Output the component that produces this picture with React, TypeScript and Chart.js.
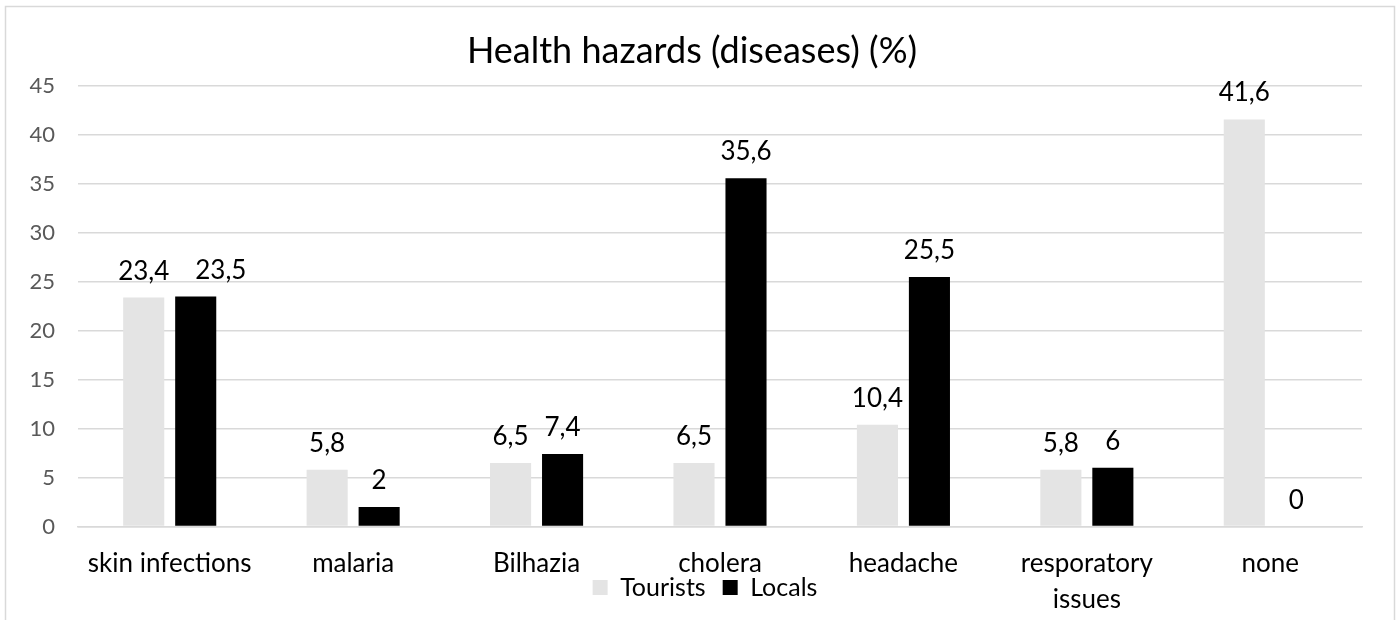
import React, { useEffect, useRef } from 'react';
import { Chart, registerables } from 'chart.js';

Chart.register(...registerables);

const FONT = 'Lato';

const titleText = 'Health hazards (diseases) (%)';
const categories: (string | string[])[] = [
  'skin infections',
  'malaria',
  'Bilhazia',
  'cholera',
  'headache',
  ['resporatory', 'issues'],
  'none',
];
const seriesNames = ['Tourists', 'Locals'];
const tourists = [23.4, 5.8, 6.5, 6.5, 10.4, 5.8, 41.6];
const locals = [23.5, 2, 7.4, 35.6, 25.5, 6, 0];
const yMin = 0;
const yMax = 45;
const yStep = 5;

const seriesColors = ['#e4e4e4', '#000000'];

const fmt = (v: number) => String(v).replace('.', ',');

const LABEL_FONT_SIZE = 26;
const LABEL_OFFSET = 18;

const valueLabels = {
  id: 'valueLabels',
  afterDatasetsDraw(chart: any) {
    const ctx = chart.ctx;
    ctx.save();
    ctx.font = `${LABEL_FONT_SIZE}px ${FONT}`;
    ctx.fillStyle = '#000';
    ctx.textAlign = 'center';
    ctx.textBaseline = 'alphabetic';
    const n = chart.data.labels.length;
    const metas = chart.data.datasets.map((_: any, di: number) => chart.getDatasetMeta(di));
    for (let i = 0; i < n; i++) {
      let prev: { right: number; y: number } | null = null;
      metas.forEach((meta: any, di: number) => {
        const bar = meta.data[i];
        const text = fmt(chart.data.datasets[di].data[i]);
        const w = ctx.measureText(text).width;
        let x = bar.x;
        const y = bar.y - LABEL_OFFSET;
        if (prev && Math.abs(prev.y - y) < LABEL_FONT_SIZE && x - w / 2 < prev.right + 8) {
          x = prev.right + 26 + w / 2;
        }
        ctx.fillText(text, x, y);
        prev = { right: x + w / 2, y };
      });
    }
    ctx.restore();
  },
};

const frame = {
  id: 'frame',
  afterLayout(chart: any) {
    const lg = chart.legend;
    if (lg) {
      lg.left += 24;
      lg.right += 24;
    }
    const tb = chart.titleBlock;
    if (tb) {
      tb.left += 11;
      tb.right += 11;
    }
  },
  afterDraw(chart: any) {
    const ctx = chart.ctx;
    ctx.save();
    ctx.strokeStyle = '#d9d9d9';
    ctx.lineWidth = 1.5;
    ctx.strokeRect(5.5, 6.5, 1389, 700);
    ctx.restore();
  },
};

export default function App() {
  const ref = useRef<HTMLCanvasElement | null>(null);

  useEffect(() => {
    if (!ref.current) return;
    const chart = new Chart(ref.current, {
      type: 'bar',
      data: {
        labels: categories,
        datasets: [
          {
            label: seriesNames[0],
            data: tourists,
            backgroundColor: seriesColors[0],
            categoryPercentage: 0.567,
            barPercentage: 0.79,
          },
          {
            label: seriesNames[1],
            data: locals,
            backgroundColor: seriesColors[1],
            categoryPercentage: 0.567,
            barPercentage: 0.79,
          },
        ],
      },
      options: {
        responsive: false,
        animation: false,
        layout: { padding: { left: 0, right: 38, top: 0, bottom: 10 } },
        plugins: {
          title: {
            display: true,
            text: titleText,
            color: '#000',
            font: { family: FONT, size: 36, weight: 'normal' },
            padding: { top: 30, bottom: 13 },
          },
          legend: {
            position: 'bottom',
            labels: {
              color: '#000',
              font: { family: FONT, size: 25 },
              boxWidth: 15,
              boxHeight: 15,
              padding: 17,
            },
          },
          tooltip: { enabled: false },
        },
        scales: {
          x: {
            grid: { display: false },
            border: { display: true, color: '#d9d9d9', width: 1.5 },
            ticks: {
              color: '#000',
              font: { family: FONT, size: 26, lineHeight: 1.35 },
              padding: 12,
              maxRotation: 0,
              autoSkip: false,
            },
            afterFit(scale: any) {
              scale.height = 31.5;
              scale._computeLabelArea = () => undefined;
            },
          },
          y: {
            min: yMin,
            max: yMax,
            grid: { color: '#d9d9d9', lineWidth: 1.5, drawTicks: false },
            border: { display: false },
            ticks: {
              stepSize: yStep,
              color: '#595959',
              font: { family: FONT, size: 22 },
              padding: 23,
            },
            afterFit(scale: any) {
              scale.width = 78;
            },
          },
        },
      },
      plugins: [valueLabels, frame],
    });
    return () => chart.destroy();
  }, []);

  return (
    <div style={{ position: 'absolute', left: 0, top: 0, width: 1400, height: 620, background: '#fff' }}>
      <canvas ref={ref} width={1400} height={620} style={{ display: 'block' }} />
    </div>
  );
}
